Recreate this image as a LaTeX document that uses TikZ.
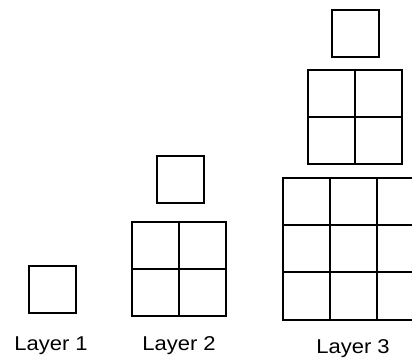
\documentclass[tikz,border=0pt]{standalone}
\usepackage{fontspec}
\setmainfont{Liberation Sans}
\usetikzlibrary{calc}
\usetikzlibrary{positioning}

\tikzset{
  cell/.style={rectangle,inner sep=0pt,outer sep=0pt,minimum size=47pt,draw=black,line width=2pt},
  layerlabel/.style={anchor=base,font=\fontsize{20}{22}\selectfont,xscale=1.1}
}

\begin{document}
\begin{tikzpicture}[x=1pt,y=-1pt,line width=2pt]

\coordinate (LEFTCORNER) at (0,0);
\useasboundingbox (LEFTCORNER) rectangle ++(412,358);
\clip (LEFTCORNER) rectangle ++(412,358);

%draw layer 1
\node[cell] at ($(LEFTCORNER)+(52,289.5)$) (L1top) {};
\node[layerlabel] at ($(LEFTCORNER)+(51,350)$) (L1label) {Layer 1};

%%%%%%%

%draw layer 2
\node[cell] at ($(LEFTCORNER)+(180.5,179.5)$) (L2top) {};
\node[cell,minimum size=94pt] at ($(LEFTCORNER)+(179,269)$) (L2grid) {};
\draw (L2grid.north) -- (L2grid.south);
\draw (L2grid.west) -- (L2grid.east);
\node[layerlabel] at ($(LEFTCORNER)+(179,350)$) (L2label) {Layer 2};

%%%%%%%

%draw layer 3, the big grid runs off the right edge
\node[cell] at ($(LEFTCORNER)+(355,33.5)$) (L3top) {};
\node[cell,minimum size=94pt] at ($(LEFTCORNER)+(355,117)$) (L3mid) {};
\draw (L3mid.north) -- (L3mid.south);
\draw (L3mid.west) -- (L3mid.east);

\node[cell,minimum size=141pt] at ($(LEFTCORNER)+(353.5,249)$) (L3grid) {};
\draw ($(L3grid.north west)!1/3!(L3grid.north east)$) -- ($(L3grid.south west)!1/3!(L3grid.south east)$);
\draw ($(L3grid.north west)!2/3!(L3grid.north east)$) -- ($(L3grid.south west)!2/3!(L3grid.south east)$);
\draw ($(L3grid.north west)!1/3!(L3grid.south west)$) -- ($(L3grid.north east)!1/3!(L3grid.south east)$);
\draw ($(L3grid.north west)!2/3!(L3grid.south west)$) -- ($(L3grid.north east)!2/3!(L3grid.south east)$);
\node[layerlabel] at ($(LEFTCORNER)+(353,353)$) (L3label) {Layer 3};

\end{tikzpicture}
\end{document}
